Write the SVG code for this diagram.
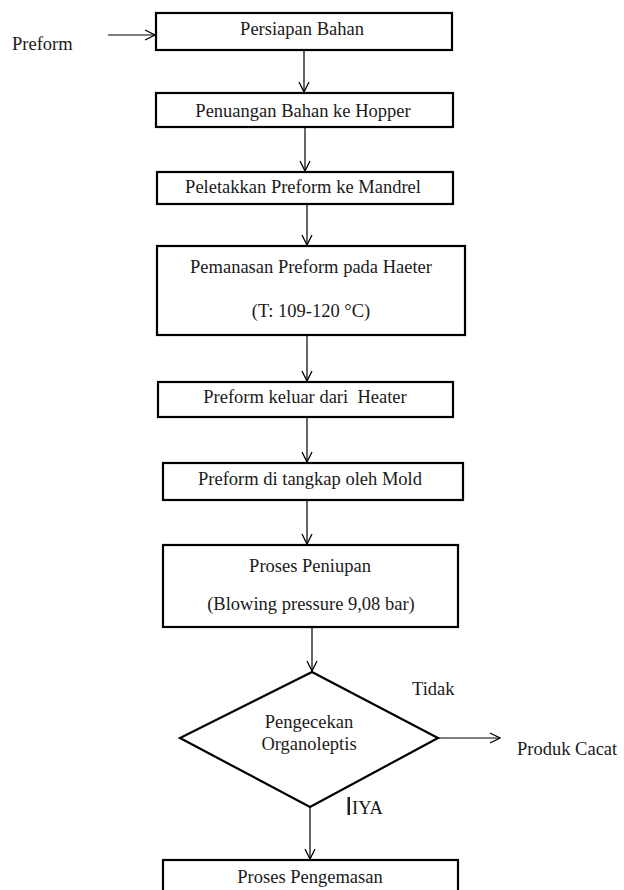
<svg xmlns="http://www.w3.org/2000/svg" width="624" height="890" viewBox="0 0 624 890">
<style>
.box{fill:#fff;stroke:#000;stroke-width:2.2}
.t{font-family:'Liberation Serif','Times New Roman','DejaVu Serif',serif;font-size:18.5px;fill:#1a1a1a;white-space:pre}
.c{text-anchor:middle}
.ln{fill:none;stroke:#000;stroke-width:1.2}
</style>
<defs>
<marker id="ah" viewBox="0 0 12 12" refX="11" refY="6" markerWidth="12" markerHeight="12" markerUnits="userSpaceOnUse" orient="auto">
<polyline points="1,1 11,6 1,11" fill="none" stroke="#000" stroke-width="1.3"/>
</marker>
</defs>
<rect width="624" height="890" fill="#fff"/>
<g id="connectors">
<line class="ln" x1="108" y1="35" x2="155" y2="35" marker-end="url(#ah)"/>
<line class="ln" x1="304" y1="51" x2="304" y2="92" marker-end="url(#ah)"/>
<line class="ln" x1="305" y1="128" x2="305" y2="171" marker-end="url(#ah)"/>
<line class="ln" x1="307" y1="205" x2="307" y2="245" marker-end="url(#ah)"/>
<line class="ln" x1="307" y1="336" x2="307" y2="381" marker-end="url(#ah)"/>
<line class="ln" x1="307" y1="418" x2="307" y2="462" marker-end="url(#ah)"/>
<line class="ln" x1="307" y1="501" x2="307" y2="544" marker-end="url(#ah)"/>
<line class="ln" x1="312" y1="628" x2="312" y2="671" marker-end="url(#ah)"/>
<line class="ln" x1="438" y1="738" x2="500" y2="738" marker-end="url(#ah)"/>
<line class="ln" x1="310" y1="807" x2="310" y2="859" marker-end="url(#ah)"/>
</g>
<g id="preform"><text class="t" x="12" y="50">Preform</text></g>
<g id="n1"><rect class="box" x="156" y="13" width="296" height="37"/><text class="t c" x="302" y="35">Persiapan Bahan</text></g>
<g id="n2"><rect class="box" x="156" y="93" width="297" height="34"/><text class="t c" x="303" y="117">Penuangan Bahan ke Hopper</text></g>
<g id="n3"><rect class="box" x="157" y="172" width="296" height="32"/><text class="t c" x="303" y="193">Peletakkan Preform ke Mandrel</text></g>
<g id="n4"><rect class="box" x="157" y="246" width="308" height="89"/><text class="t c" x="311" y="273">Pemanasan Preform pada Haeter</text><text class="t c" x="311" y="317">(T: 109-120 °C)</text></g>
<g id="n5"><rect class="box" x="158" y="382" width="295" height="35"/><text class="t c" x="305" y="403" xml:space="preserve">Preform keluar dari  Heater</text></g>
<g id="n6"><rect class="box" x="163" y="463" width="300" height="37"/><text class="t c" x="310" y="485">Preform di tangkap oleh Mold</text></g>
<g id="n7"><rect class="box" x="163" y="545" width="295" height="82"/><text class="t c" x="310" y="572">Proses Peniupan</text><text class="t c" x="311" y="610">(Blowing pressure 9,08 bar)</text></g>
<g id="d1"><polygon class="box" points="312,672 438,738 310,807 180,738"/><text class="t c" x="309" y="728">Pengecekan</text><text class="t c" x="309" y="750">Organoleptis</text></g>
<g id="tidak"><text class="t" x="412" y="695">Tidak</text></g>
<g id="cacat"><text class="t" x="517" y="755">Produk Cacat</text></g>
<g id="iya"><rect x="347.5" y="797" width="2.5" height="18" fill="#222"/><text class="t" x="352" y="814">IYA</text></g>
<g id="n8"><rect class="box" x="163" y="860" width="295" height="40"/><text class="t c" x="310" y="883">Proses Pengemasan</text></g>
</svg>
